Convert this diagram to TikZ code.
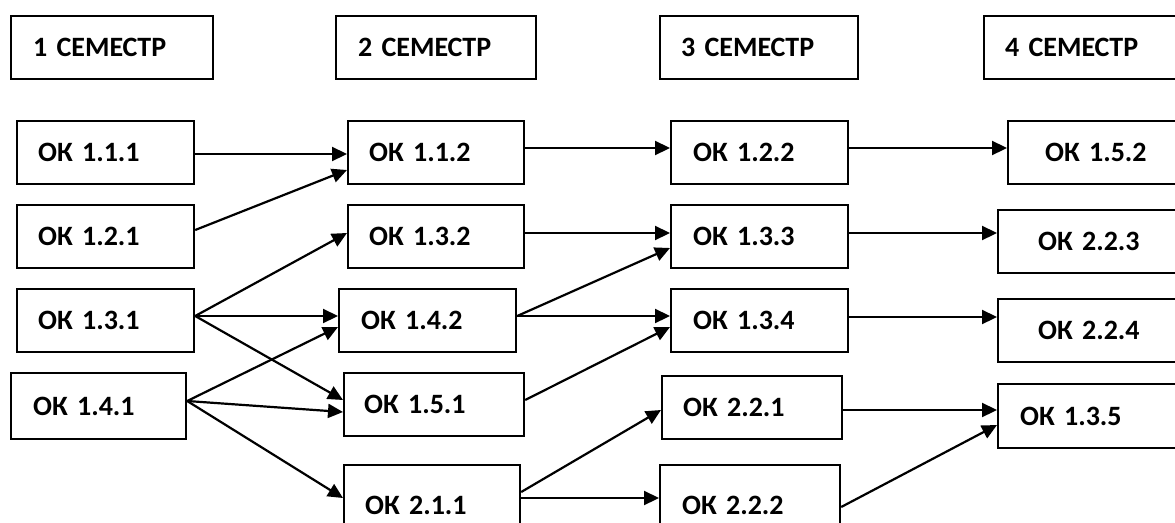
\documentclass[tikz,border=0pt]{standalone}
\usepackage{fontspec}
\setmainfont{Carlito}
\usetikzlibrary{arrows.meta}
\tikzset{
  box/.style={draw, line width=2.2pt, anchor=north west, align=left,
    font=\fontsize{28}{30}\selectfont\bfseries, inner ysep=0pt},
  arr/.style={line width=2.2pt, -{Triangle[length=15pt,width=14pt]}}
}
\begin{document}
\begin{tikzpicture}[x=1pt,y=-1pt]
\useasboundingbox (0,0) rectangle (1175,522);
\clip (0,0) rectangle (1175,522);
% headers
\node[box, minimum height=63pt, inner xsep=22pt, text width=158pt] (h1) at (10,15) {1 СЕМЕСТР};
\node[box, minimum height=63pt, inner xsep=22pt, text width=156pt] (h2) at (335,15) {2 СЕМЕСТР};
\node[box, minimum height=63pt, inner xsep=21pt, text width=156pt] (h3) at (659,15) {3 СЕМЕСТР};
\node[box, minimum height=63pt, inner xsep=21pt, text width=208pt] (h4) at (983,15) {4 СЕМЕСТР};
% column 1
\node[box, minimum height=63pt, inner xsep=21pt, text width=135pt] (a111) at (16,120) {ОК 1.1.1};
\node[box, minimum height=63pt, inner xsep=21pt, text width=135pt] (a121) at (16,204) {ОК 1.2.1};
\node[box, minimum height=63pt, inner xsep=21pt, text width=135pt] (a131) at (16,288) {ОК 1.3.1};
\node[box, minimum height=66pt, inner xsep=22pt, text width=131pt] (a141) at (10,372) {ОК 1.4.1};
% column 2
\node[box, minimum height=63pt, inner xsep=21pt, text width=134pt] (b112) at (347,120) {ОК 1.1.2};
\node[box, minimum height=63pt, inner xsep=21pt, text width=134pt] (b132) at (347,204) {ОК 1.3.2};
\node[box, minimum height=63pt, inner xsep=22pt, text width=133pt] (b142) at (338,288) {ОК 1.4.2};
\node[box, minimum height=63pt, inner xsep=20pt, text width=140pt] (b151) at (343,372) {ОК 1.5.1};
\node[box, minimum height=80pt, inner xsep=21pt, text width=134pt] (b211) at (343,464) {ОК 2.1.1};
% column 3
\node[box, minimum height=63pt, inner xsep=22pt, text width=133pt] (c122) at (670,120) {ОК 1.2.2};
\node[box, minimum height=63pt, inner xsep=22pt, text width=133pt] (c133) at (670,204) {ОК 1.3.3};
\node[box, minimum height=63pt, inner xsep=22pt, text width=133pt] (c134) at (670,288) {ОК 1.3.4};
\node[box, minimum height=63pt, inner xsep=21pt, text width=138pt] (c221) at (661,375) {ОК 2.2.1};
\node[box, minimum height=80pt, inner xsep=22pt, text width=136pt] (c222) at (659,464) {ОК 2.2.2};
% column 4
\node[box, minimum height=63pt, inner xsep=37pt, text width=176pt] (d152) at (1007,120) {ОК 1.5.2};
\node[box, minimum height=63pt, inner xsep=40pt, text width=170pt] (d223) at (997,209) {ОК 2.2.3};
\node[box, minimum height=63pt, inner xsep=40pt, text width=170pt] (d224) at (997,298) {ОК 2.2.4};
\node[box, minimum height=64pt, inner xsep=22pt, text width=206pt] (d135) at (997,383) {ОК 1.3.5};
% arrows
\draw[arr] (a111.east |- 0,154) -- (b112.west |- 0,154);
\draw[arr] (a121.east |- 0,230) -- (b112.west |- 0,170);
\draw[arr] (a131.east |- 0,316) -- (b132.west |- 0,233);
\draw[arr] (a131.east |- 0,316) -- (b142.west |- 0,316);
\draw[arr] (a131.east |- 0,316) -- (b151.west |- 0,400);
\draw[arr] (a141.east |- 0,401) -- (b142.west |- 0,327);
\draw[arr] (a141.east |- 0,401) -- (b151.west |- 0,412);
\draw[arr] (a141.east |- 0,401) -- (b211.west |- 0,498);
\draw[arr] (b112.east |- 0,148) -- (c122.west |- 0,148);
\draw[arr] (b132.east |- 0,233) -- (c133.west |- 0,233);
\draw[arr] (b142.east |- 0,316) -- (c133.west |- 0,248);
\draw[arr] (b142.east |- 0,316) -- (c134.west |- 0,316);
\draw[arr] (b151.east |- 0,400) -- (c134.west |- 0,327);
\draw[arr] (b211.east |- 0,492) -- (c221.west |- 0,410);
\draw[arr] (b211.east |- 0,498) -- (c222.west |- 0,498);
\draw[arr] (c122.east |- 0,148) -- (d152.west |- 0,148);
\draw[arr] (c133.east |- 0,233) -- (d223.west |- 0,233);
\draw[arr] (c134.east |- 0,317) -- (d224.west |- 0,317);
\draw[arr] (c221.east |- 0,410) -- (d135.west |- 0,410);
\draw[arr] (c222.east |- 0,507) -- (d135.west |- 0,425);
\end{tikzpicture}
\end{document}
